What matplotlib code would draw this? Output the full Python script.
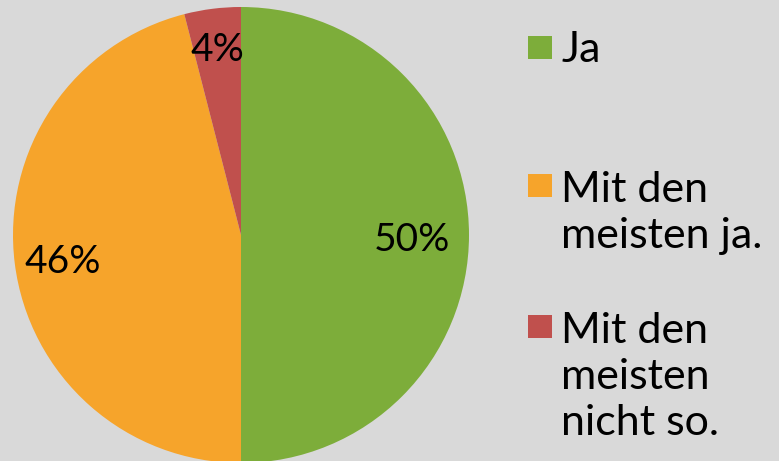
import numpy as np
import matplotlib.pyplot as plt
from matplotlib.patches import Rectangle

categories = ['Ja', 'Mit den\nmeisten ja.', 'Mit den\nmeisten\nnicht so.']
shares = [50, 46, 4]
colors = ['#7DAD3A', '#F6A42B', '#C0504D']

plt.rcParams['font.family'] = ['Lato', 'DejaVu Sans']

fig = plt.figure(figsize=(7.79, 4.61), dpi=100)
fig.patch.set_facecolor('#D9D9D9')

# pie: centre (241, 235) px, radius 228 px
W, H = 779, 461
cx, cy, r = 241, 235, 228
ax = fig.add_axes([(cx - r) / W, (H - cy - r) / H, 2 * r / W, 2 * r / H])
wedges, texts, autotexts = ax.pie(shares, colors=colors, startangle=90, counterclock=False,
                                  autopct='%1.0f%%', pctdistance=0.78,
                                  textprops=dict(fontsize=28, color='black'))
ax.set_xlim(-1, 1)
ax.set_ylim(-1, 1)
ax.set_aspect('equal')

# nudge label distance per slice, like the original
label_dist = [0.75, 0.79, 0.84]
for w, t, d in zip(wedges, autotexts, label_dist):
    ang = np.deg2rad((w.theta1 + w.theta2) / 2)
    t.set_position((d * np.cos(ang), d * np.sin(ang) - 0.02))

# legend drawn by hand so the box sits on the first text line
box_top = [36, 174, 315]
text_top = [31, 171, 312]
for lab, col, bt, tt in zip(categories, colors, box_top, text_top):
    fig.patches.append(Rectangle((528 / W, 1 - (bt + 23) / H), 24 / W, 23 / H,
                                 transform=fig.transFigure, facecolor=col, edgecolor='none'))
    fig.text(561 / W, 1 - tt / H, lab, fontsize=31, va='top', ha='left',
             linespacing=1.26)

plt.savefig('out.png', dpi=100, facecolor=fig.get_facecolor())
